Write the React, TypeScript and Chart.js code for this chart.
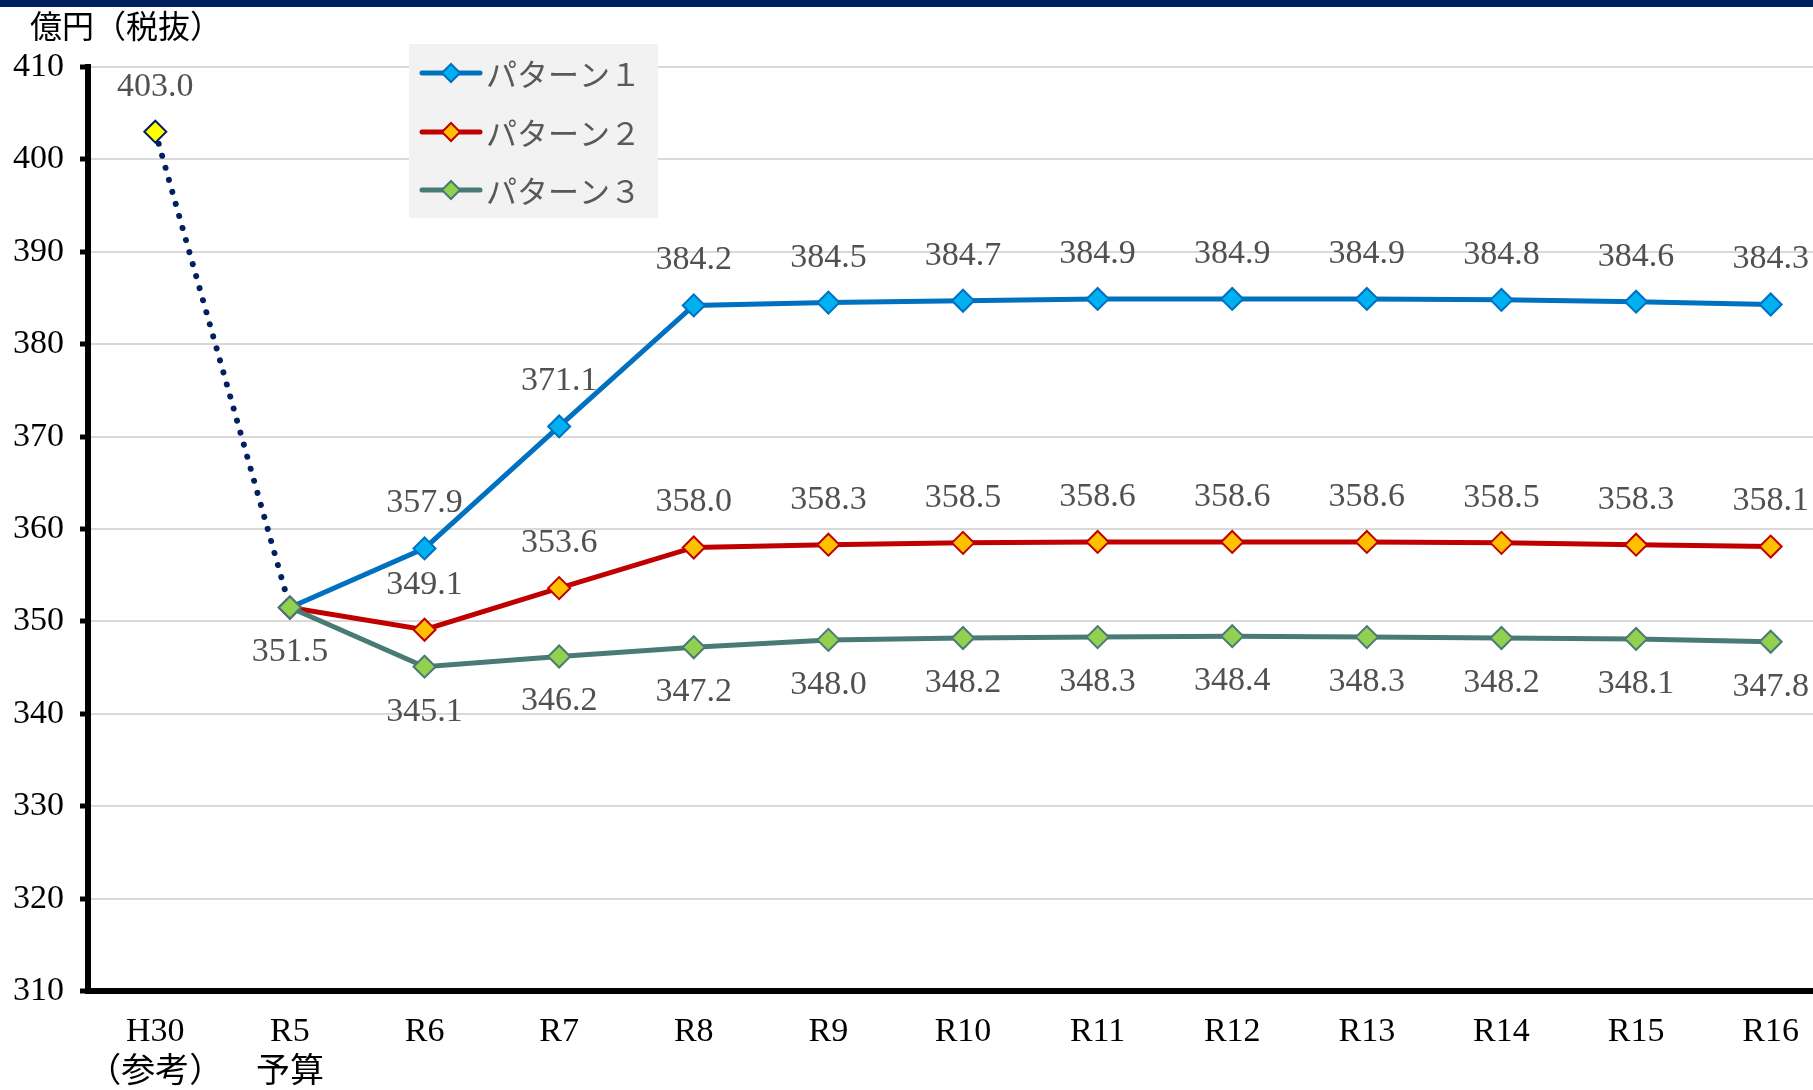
import { useEffect, useRef } from "react";
import { Chart, registerables } from "chart.js";

Chart.register(...registerables);

const categories: (string | string[])[] = [
  ["H30", "（参考）"],
  ["R5", "予算"],
  "R6", "R7", "R8", "R9", "R10", "R11", "R12", "R13", "R14", "R15", "R16",
];

const referenceValues = [403.0, 351.5, null, null, null, null, null, null, null, null, null, null, null];
const pattern1 = [null, 351.5, 357.9, 371.1, 384.2, 384.5, 384.7, 384.9, 384.9, 384.9, 384.8, 384.6, 384.3];
const pattern2 = [null, 351.5, 349.1, 353.6, 358.0, 358.3, 358.5, 358.6, 358.6, 358.6, 358.5, 358.3, 358.1];
const pattern3 = [null, 351.5, 345.1, 346.2, 347.2, 348.0, 348.2, 348.3, 348.4, 348.3, 348.2, 348.1, 347.8];

const seriesNames = ["パターン１", "パターン２", "パターン３"];
const yMin = 310;
const yMax = 410;
const yStep = 10;
const unitTitle = "億円（税抜）";

const NUM_FONT = "'Liberation Serif', 'Noto Sans CJK JP', serif";
const CJK_FONT = "'Noto Sans CJK JP', sans-serif";

const decorPlugin = {
  id: "decor",
  beforeDraw(chart: any) {
    const ctx = chart.ctx;
    ctx.save();
    ctx.fillStyle = "#ffffff";
    ctx.fillRect(0, 0, chart.width, chart.height);
    ctx.fillStyle = "#002060";
    ctx.fillRect(0, 0, chart.width, 7);
    ctx.restore();
  },
  afterDatasetsDraw(chart: any) {
    const ctx = chart.ctx;
    ctx.save();
    ctx.font = `34px ${NUM_FONT}`;
    ctx.fillStyle = "#505050";
    ctx.textAlign = "center";
    ctx.textBaseline = "middle";
    chart.data.datasets.forEach((ds: any, di: number) => {
      const meta = chart.getDatasetMeta(di);
      ds.data.forEach((v: number | null, i: number) => {
        if (v === null || v === undefined) return;
        if (i < (ds.labelFrom ?? 0)) return;
        const side = Array.isArray(ds.labelSide) ? ds.labelSide[i] : ds.labelSide;
        const pt = meta.data[i];
        if (!pt) return;
        const dy = side === "below" ? 45 : -45;
        ctx.fillText(v.toFixed(1), pt.x, pt.y + dy);
      });
    });
    ctx.restore();
  },
  afterDraw(chart: any) {
    const ctx = chart.ctx;
    ctx.save();
    // unit title
    ctx.font = `32px ${CJK_FONT}`;
    ctx.fillStyle = "#000000";
    ctx.textAlign = "left";
    ctx.textBaseline = "middle";
    ctx.fillText(unitTitle, 30, 26);

    // legend
    const bx = 409, by = 44, bw = 249, bh = 174;
    ctx.fillStyle = "#F2F2F2";
    ctx.fillRect(bx, by, bw, bh);
    const rows = [73, 132, 190];
    const series = chart.data.datasets.filter((d: any) => d.isPattern);
    series.forEach((ds: any, k: number) => {
      const y = rows[k];
      ctx.strokeStyle = ds.borderColor;
      ctx.lineWidth = 5;
      ctx.lineCap = "round";
      ctx.beginPath();
      ctx.moveTo(422, y);
      ctx.lineTo(480, y);
      ctx.stroke();
      const r = 9;
      ctx.beginPath();
      ctx.moveTo(451 - r, y);
      ctx.lineTo(451, y - r);
      ctx.lineTo(451 + r, y);
      ctx.lineTo(451, y + r);
      ctx.closePath();
      ctx.fillStyle = ds.pointBackgroundColor;
      ctx.fill();
      ctx.lineWidth = 2;
      ctx.strokeStyle = ds.pointBorderColor;
      ctx.stroke();
      ctx.font = `31px ${CJK_FONT}`;
      ctx.fillStyle = "#595959";
      ctx.textAlign = "left";
      ctx.textBaseline = "middle";
      ctx.fillText(ds.label, 486, y + 1);
    });
    ctx.restore();
  },
};

export default function App() {
  const canvasRef = useRef<HTMLCanvasElement | null>(null);

  useEffect(() => {
    const canvas = canvasRef.current;
    if (!canvas) return;
    const patternStyle = (line: string, fill: string) => ({
      borderColor: line,
      backgroundColor: line,
      borderWidth: 5,
      pointStyle: "rectRot" as const,
      pointRadius: 11,
      pointBackgroundColor: fill,
      pointBorderColor: line,
      pointBorderWidth: 2,
      tension: 0,
      fill: false,
    });
    const chart = new Chart(canvas, {
      type: "line",
      data: {
        labels: categories,
        datasets: [
          {
            label: "参考",
            data: referenceValues,
            borderColor: "#002060",
            borderWidth: 6,
            borderDash: [0.01, 12.5],
            borderCapStyle: "round",
            pointStyle: "rectRot",
            pointRadius: [11, 0],
            pointBackgroundColor: "#FFFF00",
            pointBorderColor: "#002060",
            pointBorderWidth: 2,
            order: 3,
            labelSide: ["above", "below"],
          } as any,
          { label: seriesNames[0], data: pattern1, ...patternStyle("#0070C0", "#00B0F0"), order: 2, labelSide: "above", labelFrom: 2, isPattern: true } as any,
          { label: seriesNames[1], data: pattern2, ...patternStyle("#C00000", "#FFC000"), order: 1, labelSide: "above", labelFrom: 2, isPattern: true } as any,
          { label: seriesNames[2], data: pattern3, ...patternStyle("#4A7A75", "#92D050"), order: 0, labelSide: "below", labelFrom: 2, isPattern: true } as any,
        ],
      },
      options: {
        responsive: false,
        maintainAspectRatio: false,
        animation: false,
        events: [],
        layout: { padding: { left: 0, top: 67, right: 4, bottom: 0 } },
        plugins: {
          legend: { display: false },
          tooltip: { enabled: false },
          title: { display: false },
        },
        scales: {
          x: {
            type: "category",
            offset: true,
            grid: { display: false, drawTicks: false },
            border: { display: true, color: "#000000", width: 6 },
            ticks: {
              font: { family: NUM_FONT, size: 34, lineHeight: 1.2 },
              color: "#000000",
              padding: 21,
              maxRotation: 0,
              autoSkip: false,
            },
            afterFit: (s: any) => {
              s.height = 99;
            },
          },
          y: {
            min: yMin,
            max: yMax,
            ticks: {
              stepSize: yStep,
              font: { family: NUM_FONT, size: 34 },
              color: "#000000",
              padding: 16,
            },
            grid: {
              color: "#D9D9D9",
              lineWidth: 2,
              tickColor: "#000000",
              tickWidth: 5,
              tickLength: 8,
            },
            border: { display: true, color: "#000000", width: 6 },
            afterFit: (s: any) => {
              s.width = 88;
            },
          },
        },
      },
      plugins: [decorPlugin],
    });
    return () => chart.destroy();
  }, []);

  return (
    <div
      style={{
        position: "fixed",
        left: 0,
        top: 0,
        width: 1813,
        height: 1090,
        overflow: "hidden",
        background: "#ffffff",
      }}
    >
      <canvas ref={canvasRef} width={1851} height={1090} style={{ display: "block" }} />
    </div>
  );
}
